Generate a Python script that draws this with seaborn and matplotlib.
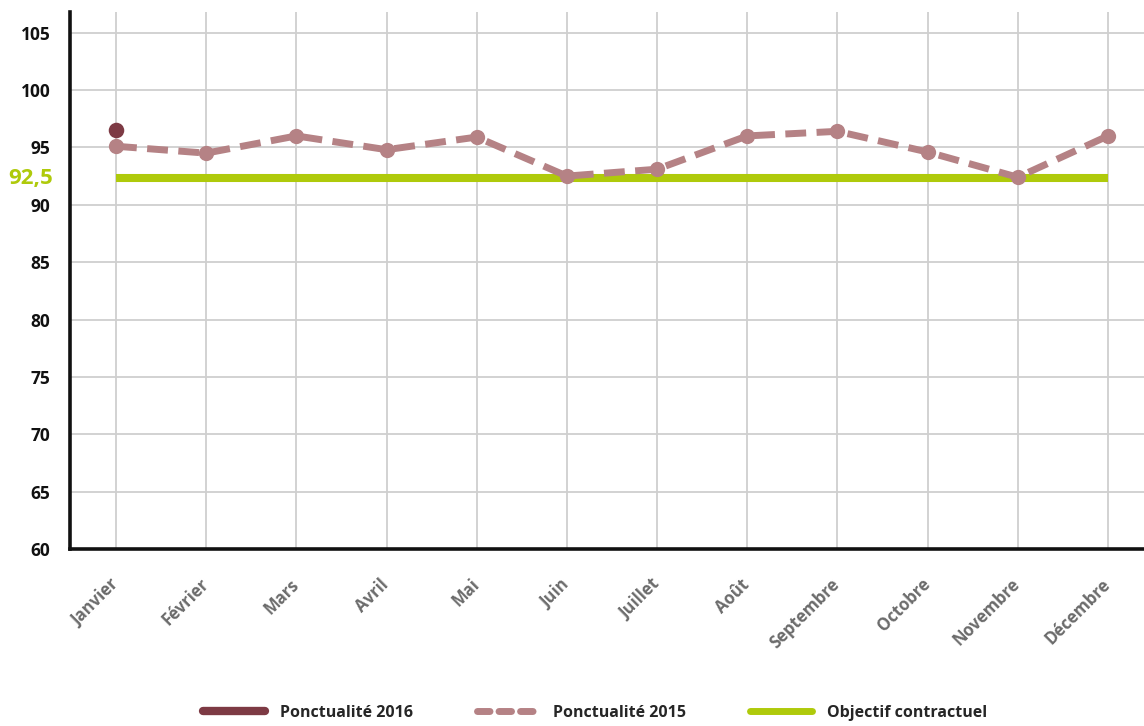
import matplotlib.pyplot as plt
import matplotlib.transforms as mtransforms
import seaborn as sns
import pandas as pd
from matplotlib.lines import Line2D

sns.set_style("white")
plt.rcParams['font.family'] = ['Open Sans', 'DejaVu Sans']

mois = ['Janvier', 'Février', 'Mars', 'Avril', 'Mai', 'Juin', 'Juillet',
        'Août', 'Septembre', 'Octobre', 'Novembre', 'Décembre']
ponct_2015 = [95.1, 94.5, 96.0, 94.8, 95.9, 92.5, 93.1, 96.0, 96.4, 94.6, 92.4, 96.0]
ponct_2016 = [96.5]
objectif = 92.35
objectif_label = '92,5'
y_ticks = [60, 65, 70, 75, 80, 85, 90, 95, 100, 105]

c2016 = '#7d3a44'
c2015 = '#b58285'
cobj = '#afca0b'

df15 = pd.DataFrame({'mois': range(len(mois)), 'val': ponct_2015})
df16 = pd.DataFrame({'mois': range(len(ponct_2016)), 'val': ponct_2016})
dfobj = pd.DataFrame({'mois': range(len(mois)), 'val': [objectif] * len(mois)})

fig = plt.figure(figsize=(11.44, 7.26), dpi=100)
ax = fig.add_axes([70 / 1144, 1 - 549 / 726, 1 - 70 / 1144, (549 - 12) / 726])

ax.set_axisbelow(True)
sns.lineplot(data=dfobj, x='mois', y='val', ax=ax, color=cobj, linewidth=5.8,
             solid_capstyle='butt', zorder=2)
sns.lineplot(data=df15, x='mois', y='val', ax=ax, color=c2015, linewidth=5,
             dashes=(3, 1.5), marker='o', markersize=11, markeredgewidth=0, zorder=3)
sns.scatterplot(data=df16, x='mois', y='val', ax=ax, color=c2016, s=125,
                linewidth=0, zorder=4)

ax.set_xlim(-0.51, 11.4)
ax.set_ylim(60, 106.8)
ax.set_yticks(y_ticks)
ax.set_xticks(range(len(mois)))
ax.set_xticklabels(mois, rotation=45, ha='right', color='#6b6b6b',
                   fontweight='bold', fontsize=12)
ax.set_yticklabels([str(v) for v in y_ticks], fontweight='bold', fontsize=12.5,
                   color='#111111')
ax.tick_params(axis='x', length=0, pad=19)
ax.tick_params(axis='y', length=0, pad=14)
ax.set_xlabel('')
ax.set_ylabel('')
ax.grid(True, color='#cfcfcf', linewidth=1.3)

# decale un peu les mois vers la droite
shift = mtransforms.ScaledTranslation(6 / 100, 0, fig.dpi_scale_trans)
for lab in ax.get_xticklabels():
    lab.set_transform(lab.get_transform() + shift)

for s in ['top', 'right']:
    ax.spines[s].set_visible(False)
for s in ['left', 'bottom']:
    ax.spines[s].set_color('#111111')
    ax.spines[s].set_linewidth(2.6)

ax.text(-0.016, 92.3, objectif_label, transform=ax.get_yaxis_transform(),
        ha='right', va='center', color=cobj, fontweight='bold', fontsize=16)

handles = [
    Line2D([], [], color=c2016, linewidth=6, solid_capstyle='round'),
    Line2D([], [], color=c2015, linewidth=5, dashes=(1.8, 1.3), dash_capstyle='round'),
    Line2D([], [], color=cobj, linewidth=5, solid_capstyle='round'),
]
labels = ['Ponctualité 2016', 'Ponctualité 2015', 'Objectif contractuel']
fig.legend(handles, labels, ncol=3, loc='center', bbox_to_anchor=(595 / 1144, 1 - 713 / 726),
           frameon=False, handlelength=3.9, handletextpad=0.9, columnspacing=4.0,
           prop={'weight': 'bold', 'size': 11.5})

fig.savefig('out.png', dpi=100)
